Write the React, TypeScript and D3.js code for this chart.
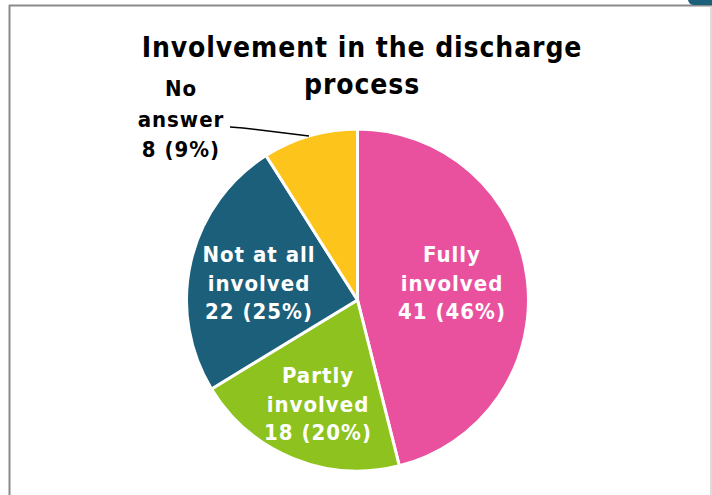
import React from "react";
import * as d3 from "d3";

const categories = ["Fully involved", "Partly involved", "Not at all involved", "No answer"];
const values = [41, 18, 22, 8];
const percents = ["46%", "20%", "25%", "9%"];
const colors = ["#E9519E", "#8DC21F", "#1C5F7B", "#FDC41C"];
const labelLines = [["Fully", "involved"], ["Partly", "involved"], ["Not at all", "involved"], ["No", "answer"]];

export default function App() {
  const W = 712, H = 495;
  const cx = 357.5, cy = 300, r = 171;
  const pie = d3.pie<number>().sort(null).value((d) => d)(values);
  const arc = d3.arc<d3.PieArcDatum<number>>().innerRadius(0).outerRadius(r);
  const font = "'DejaVu Sans Condensed', 'DejaVu Sans', sans-serif";
  const inner = [
    { x: 452, y: 262 },
    { x: 318, y: 383 },
    { x: 259, y: 262 },
  ];
  return (
    <svg width={W} height={H} style={{ position: "absolute", left: 0, top: 0, background: "#fff" }}>
      <rect x={0} y={0} width={W} height={H} fill="#fff" />
      <line x1={9.5} y1={5} x2={9.5} y2={H} stroke="#8a8a8a" strokeWidth={2} />
      <line x1={9} y1={5.5} x2={712} y2={5.5} stroke="#8a8a8a" strokeWidth={2} />
      <line x1={711} y1={6} x2={711} y2={H} stroke="#d0d0d0" strokeWidth={1.5} />
      <path d="M688,0 L712,0 L712,5 L694,5 Q689,5 688,0 Z" fill="#1C5F7B" />
      <text x={362} y={57} textAnchor="middle" fontFamily={font} fontWeight="bold" fontSize={28} letterSpacing={0.9} fill="#000">
        Involvement in the discharge
      </text>
      <text x={362} y={94} textAnchor="middle" fontFamily={font} fontWeight="bold" fontSize={28} letterSpacing={0.9} fill="#000">
        process
      </text>
      <g transform={`translate(${cx},${cy})`}>
        {pie.map((p, i) => (
          <path key={i} d={arc(p) || ""} fill={colors[i]} stroke="#fff" strokeWidth={3} strokeLinejoin="round" />
        ))}
      </g>
      {inner.map((pos, i) => (
        <text key={i} textAnchor="middle" fontFamily={font} fontWeight="bold" fontSize={22} letterSpacing={1} fill="#fff">
          {[...labelLines[i], `${values[i]} (${percents[i]})`].map((t, j) => (
            <tspan key={j} x={pos.x} y={pos.y + j * 28.5}>{t}</tspan>
          ))}
        </text>
      ))}
      <polyline points="230,127 243,128 309,136" fill="none" stroke="#000" strokeWidth={1.5} />
      <text textAnchor="middle" fontFamily={font} fontWeight="bold" fontSize={22} letterSpacing={1} fill="#000">
        {[...labelLines[3], `${values[3]} (${percents[3]})`].map((t, j) => (
          <tspan key={j} x={181} y={96 + j * 30.5}>{t}</tspan>
        ))}
      </text>
    </svg>
  );
}
